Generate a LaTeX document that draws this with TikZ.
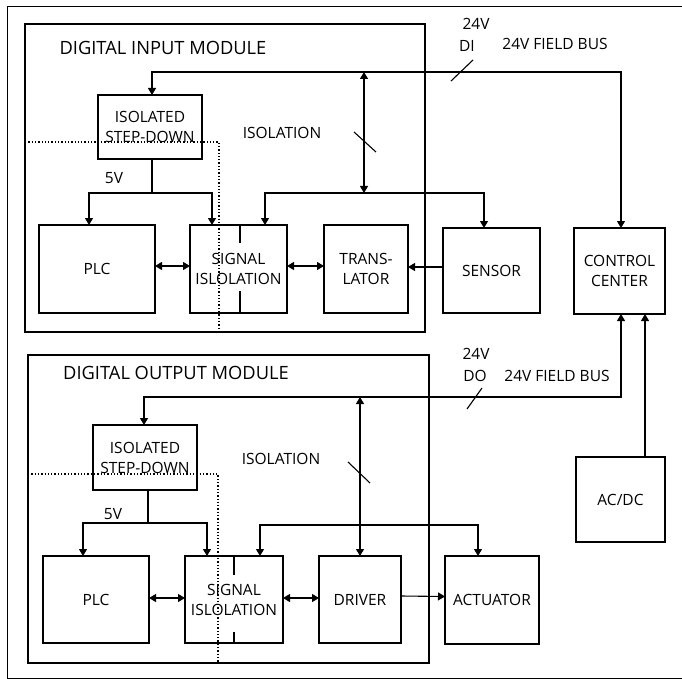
\documentclass[tikz,border=0pt]{standalone}
\usepackage{fontspec}
\setmainfont{Open Sans}
\usetikzlibrary{arrows.meta}
\begin{document}
\begin{tikzpicture}[x=1pt,y=-1pt,
  lw/.style={line width=1.1pt},
  blk/.style={draw,lw,inner sep=0pt,outer sep=0pt,align=center,font=\fontsize{15.5}{20}\selectfont},
  modbox/.style={draw,lw,inner sep=0pt,outer sep=0pt},
  lbl/.style={inner sep=0pt,font=\fontsize{15.5}{20}\selectfont},
  ttl/.style={inner sep=0pt,font=\fontsize{18.3}{22}\selectfont},
  arr/.style={lw,-{Triangle[length=7pt,width=8pt]}},
  barr/.style={lw,{Triangle[length=7pt,width=8pt]}-{Triangle[length=7pt,width=8pt]}},
  dots/.style={line width=1.3pt,dotted},
  tick/.style={lw}]
\useasboundingbox (0,0) rectangle (682,679);
% outer frame
\draw[line width=0.9pt] (700,6) -- (7,6) -- (7,678) -- (700,678);

% ---------------- input module
\node[modbox,minimum width=400,minimum height=308] (mi) at (225,178) {};
\node[ttl] (tmi) at (163,48) {DIGITAL INPUT MODULE};
\node[blk,minimum width=104,minimum height=64] (sd1) at (150,127) {ISOLATED\\STEP-DOWN};
\node[blk,minimum width=116,minimum height=88] (plc1) at (97,269) {PLC};
\node[blk,minimum width=97,minimum height=88] (si1) at (238.5,269) {SIGNAL\\ISLOLATION};
\node[blk,minimum width=84,minimum height=88] (tr) at (366,269) {TRANS-\\LATOR};
\node[blk,minimum width=97,minimum height=85] (sen) at (491.5,270.5) {SENSOR};
\node[blk,minimum width=91,minimum height=86] (cc) at (619.5,271) {CONTROL\\CENTER};
\node[lbl] (iso1) at (282,133) {ISOLATION};
\node[lbl] (fv1) at (114,178) {5V};
\node[lbl] (v24a) at (476,24) {24V};
\node[lbl] (di) at (467,46) {DI};
\node[lbl] (fb1) at (555,44) {24V FIELD BUS};

% bus
\coordinate (bus1) at (400,72);
\draw[barr] ([xshift=2pt]sd1.north) |- (bus1) -| ([xshift=1.5pt]cc.north);
\draw[lw] (451,81) -- (473,60);
% step-down to PLC / SI
\draw[lw] ([xshift=2pt]sd1.south) -- ++(0,34) coordinate (j1);
\draw[arr] (j1) -| ([xshift=-8pt]plc1.north);
\draw[arr] (j1) -| ([xshift=-26.5pt]si1.north);
% field side supply
\draw[barr] ([xshift=26.5pt]si1.north) -- ++(0,-32) -| ([xshift=-7.5pt]sen.north);
\coordinate (v1t) at (364,72);
\coordinate (v1b) at (364,193);
\draw[barr] (v1t) -- (v1b);
\draw[lw] (354,132) -- (376,152);
% signal arrows
\draw[barr] ([yshift=3pt]plc1.east) -- ([yshift=3pt]si1.west);
\draw[barr] ([yshift=3pt]si1.east) -- ([yshift=3pt]tr.west);
\draw[arr] ([yshift=3.5pt]sen.west) -- ([yshift=3.5pt]tr.east |- sen.west);
% ticks
\draw[tick] ([xshift=1.5pt]si1.north) -- ++(0,18);
\draw[tick] ([xshift=1.5pt]si1.south) -- ++(0,-22);
% isolation barrier
\draw[dots] (25,142) -| (219,333);

% ---------------- output module
\node[modbox,minimum width=401,minimum height=308] (mo) at (228.5,509) {};
\node[ttl] (tmo) at (176,373) {DIGITAL OUTPUT MODULE};
\node[blk,minimum width=104,minimum height=65] (sd2) at (145,457.5) {ISOLATED\\STEP-DOWN};
\node[blk,minimum width=106,minimum height=87] (plc2) at (96,599.5) {PLC};
\node[blk,minimum width=98,minimum height=87] (si2) at (234,599.5) {SIGNAL\\ISLOLATION};
\node[blk,minimum width=82,minimum height=87] (drv) at (360,599.5) {DRIVER};
\node[blk,minimum width=94,minimum height=88] (act) at (492,600) {ACTUATOR};
\node[blk,minimum width=89,minimum height=85] (acdc) at (620.5,499.5) {AC/DC};
\node[lbl] (iso2) at (281,459) {ISOLATION};
\node[lbl] (fv2) at (113,514) {5V};
\node[lbl] (v24b) at (476,354) {24V};
\node[lbl] (do) at (475,376) {DO};
\node[lbl] (fb2) at (557,376) {24V FIELD BUS};

\coordinate (bus2) at (400,397);
\draw[barr] ([xshift=-1pt]sd2.north) |- (bus2) -| ([xshift=1.5pt]cc.south);
\draw[lw] (467,409) -- (482,388);
\draw[arr] ([xshift=24.5pt]acdc.north) -- ([xshift=25.5pt]cc.south);
\draw[lw] ([xshift=3pt]sd2.south) -- ++(0,33) coordinate (j2);
\draw[arr] (j2) -| ([xshift=-13pt]plc2.north);
\draw[arr] (j2) -| ([xshift=-27pt]si2.north);
\draw[barr] ([xshift=26pt]si2.north) -- ++(0,-31) -| ([xshift=-14pt]act.north);
\coordinate (v2t) at (360,397);
\draw[barr] (v2t) -- (drv.north);
\draw[lw] (348,462) -- (370,483);
\draw[barr] ([yshift=1.5pt]plc2.east) -- ([yshift=1.5pt]si2.west);
\draw[barr] ([yshift=1.5pt]si2.east) -- ([yshift=1.5pt]drv.west);
\draw[arr] ([yshift=3.5pt]drv.east) -- ([yshift=3.5pt]act.west);
\draw[tick] (si2.north) -- ++(0,19);
\draw[tick] (si2.south) -- ++(0,-11);
\draw[dots] (28,474) -| (218,663);
\end{tikzpicture}
\end{document}
